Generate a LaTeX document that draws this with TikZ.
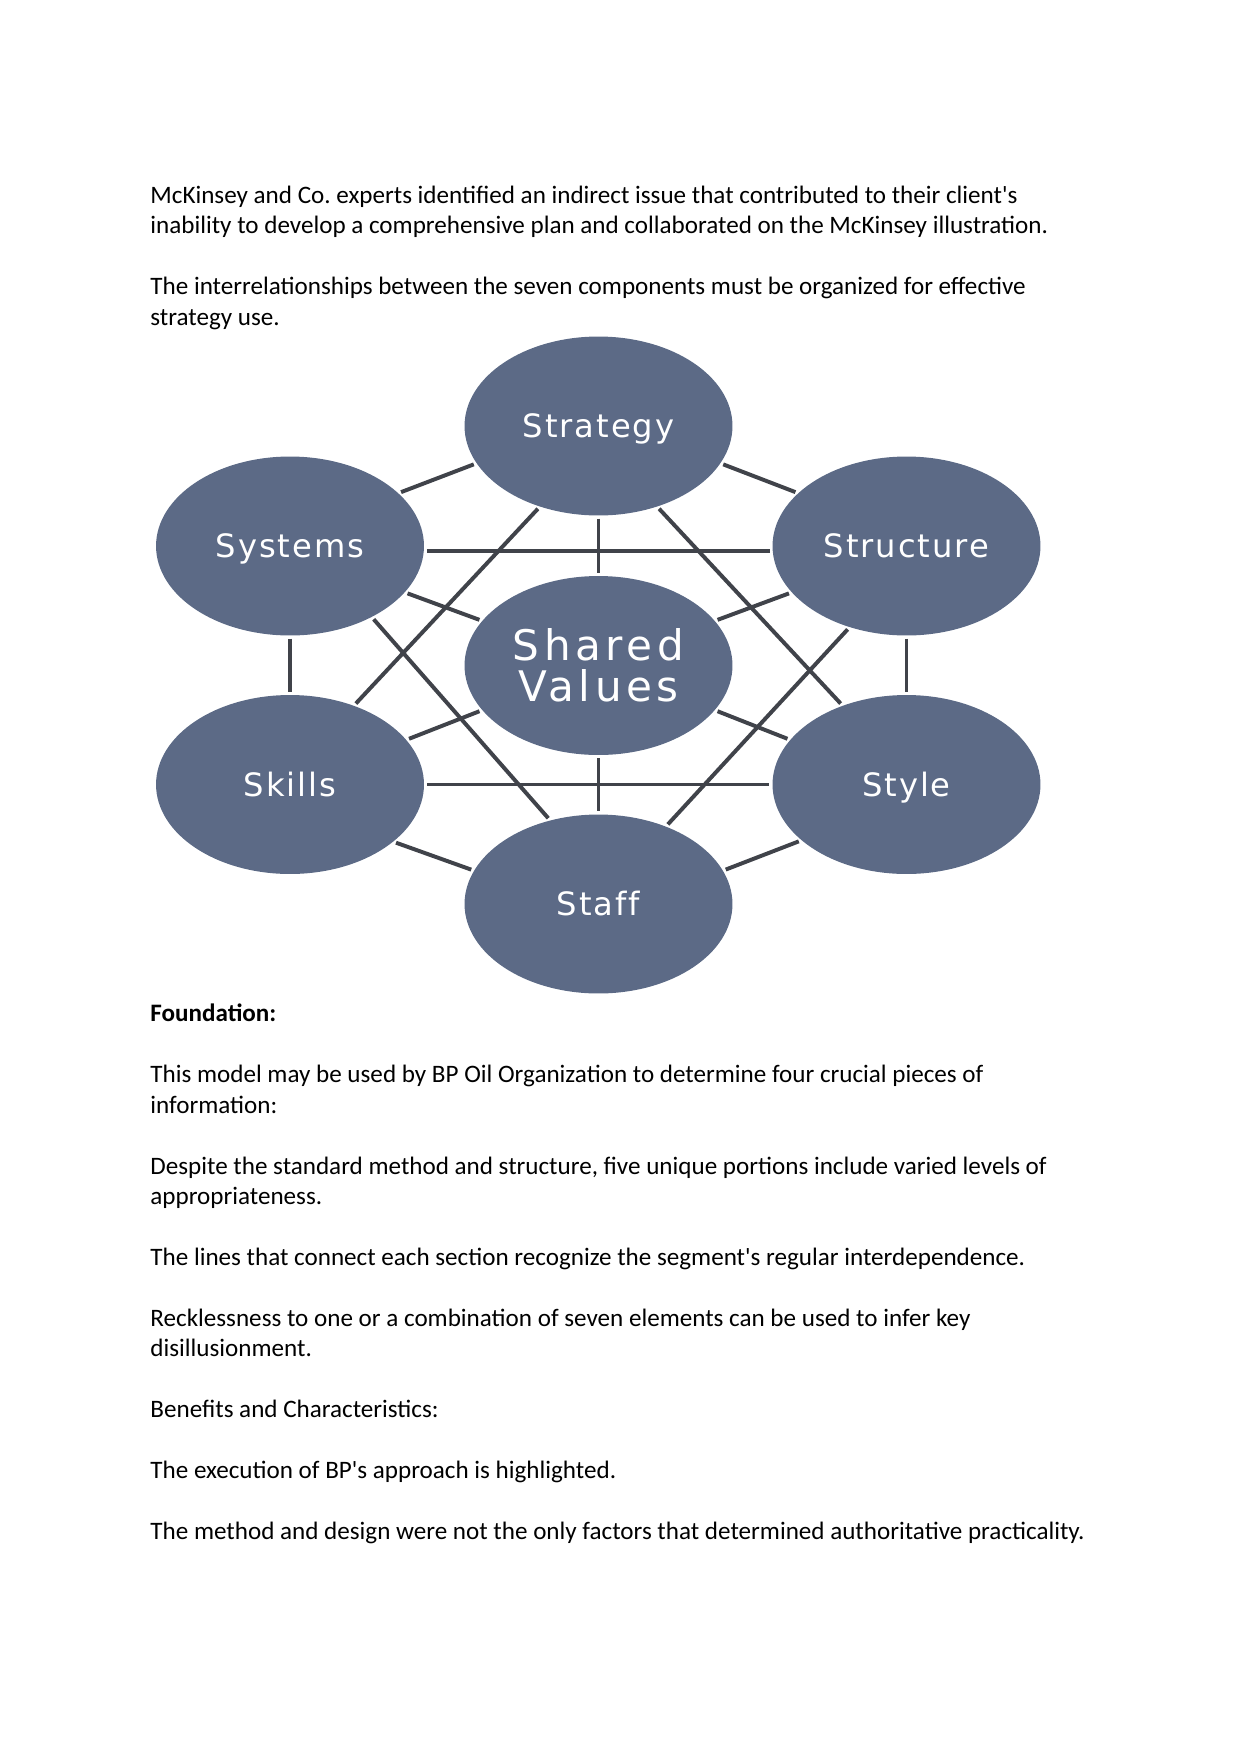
\documentclass[tikz,border=0pt]{standalone}
\usepackage{fontspec}
\setmainfont{Carlito}
\newfontfamily\labelfont[LetterSpace=6, Ligatures=NoCommon]{DejaVu Sans}
\newfontfamily\centrefont[LetterSpace=11, Ligatures=NoCommon]{DejaVu Sans}
\usetikzlibrary{shapes.geometric}
\definecolor{slateblue}{RGB}{92,106,134}
\definecolor{linkgrey}{RGB}{64,67,74}
\frenchspacing

\begin{document}
\begin{tikzpicture}[x=0.016933cm, y=-0.016933cm,
    elem/.style={ellipse, fill=slateblue, minimum width=4.538cm, minimum height=3.031cm,
        inner sep=0pt, outer sep=0pt, text=white,
        font=\labelfont\fontsize{15.5}{17}\selectfont, text height=11.3pt, text depth=0pt},
    elemlink/.style={draw=linkgrey, line width=1.9pt, shorten <=1.5pt, shorten >=1.5pt},
    para/.style={anchor=base west, inner sep=0pt, align=left,
        font=\fontsize{12.1}{14.6}\selectfont}]
    \useasboundingbox (0,0) rectangle (1241,1754);

    % text above the model (y = baseline of the last line)
    \node[para] (intro) at (150,233.9) {McKinsey and Co. experts identified an indirect issue that contributed to their client\textquotesingle s\\inability to develop a comprehensive plan and collaborated on the McKinsey illustration.};
    \node[para] (seven) at (150,325.2) {The interrelationships between the seven components must be organized for effective\\strategy use.};

    % the seven elements
    \node[elem] (str) at (598.5,426) {Strategy};
    \node[elem] (sys) at (290,546) {Systems};
    \node[elem] (stc) at (906.5,546) {Structure};
    \node[elem, align=center, font=\centrefont\fontsize{20.3}{20}\selectfont,
        text height=34.8pt, text depth=0pt] (sh) at (598.5,665.5) {Shared\\Values};
    \node[elem] (sk) at (290,784.5) {Skills};
    \node[elem] (sty) at (906.5,784.5) {Style};
    \node[elem] (stf) at (598.5,904) {Staff};

    % connectors
    \foreach \a/\b in {str.197/sys.26, str.343/stc.154, str.270/sh.90,
        str.234/sk.51, str.306/sty.129, sys.358/stc.182,
        sys.338/sh.159, stc.202/sh.21, sys.270/sk.90, stc.270/sty.90,
        sys.319/stf.120, stc.235/stf.49, sh.201/sk.21, sh.339/sty.159,
        sh.270/stf.90, sk.0/sty.180, sk.331/stf.165, sty.208/stf.15}
    {
        \draw[elemlink] (\a) -- (\b);
    }

    % text below the model
    \node[para, font=\fontsize{12.1}{14.6}\selectfont\bfseries] (found) at (150,1021.8) {Foundation:};
    \node[para] (usebp) at (150,1113.1) {This model may be used by BP Oil Organization to determine four crucial pieces of\\information:};
    \node[para] (despite) at (150,1204.4) {Despite the standard method and structure, five unique portions include varied levels of\\appropriateness.};
    \node[para] (lines) at (150,1265.3) {The lines that connect each section recognize the segment\textquotesingle s regular interdependence.};
    \node[para] (reck) at (150,1356.6) {Recklessness to one or a combination of seven elements can be used to infer key\\disillusionment.};
    \node[para] (benef) at (150,1417.5) {Benefits and Characteristics:};
    \node[para] (exec) at (150,1478.4) {The execution of BP\textquotesingle s approach is highlighted.};
    \node[para] (method) at (150,1539.3) {The method and design were not the only factors that determined authoritative practicality.};
\end{tikzpicture}
\end{document}
